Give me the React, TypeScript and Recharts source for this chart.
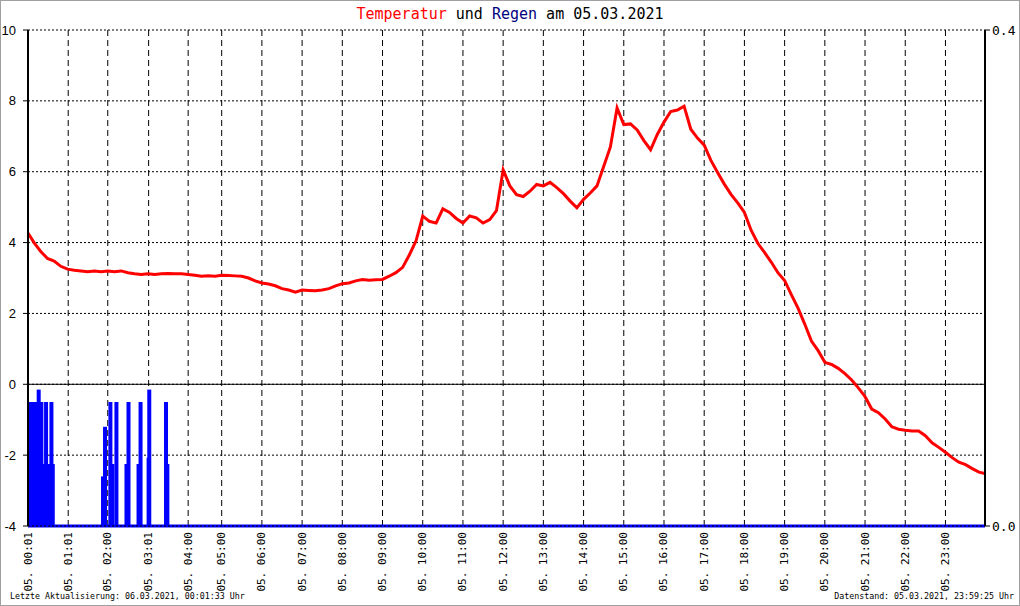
import React from 'react';
import { ComposedChart, Line, Bar, XAxis, YAxis, CartesianGrid, ReferenceLine } from 'recharts';

// sample times (every 10 min, record for 04:30 missing)
const tempTimes: string[] = (() => {
  const out: string[] = [];
  for (let h = 0; h < 24; h++) {
    for (let m = 0; m < 60; m += 10) {
      const s = `${String(h).padStart(2, '0')}:${String(m).padStart(2, '0')}`;
      if (s === '04:30') continue;
      out.push(s === '00:00' ? '00:01' : s);
    }
  }
  out.push('23:59');
  return out;
})();

const temps: number[] = [
  4.27, 4.0, 3.75, 3.55, 3.48, 3.33,
  3.25, 3.22, 3.2, 3.18, 3.2, 3.18,
  3.2, 3.18, 3.2, 3.15, 3.12, 3.1,
  3.12, 3.1, 3.12, 3.13, 3.12, 3.12,
  3.1, 3.08, 3.05, 3.06, 3.05,
  3.08, 3.07, 3.06, 3.05, 3.0, 2.92,
  2.86, 2.83, 2.78, 2.7, 2.66, 2.6,
  2.66, 2.65, 2.64, 2.66, 2.7, 2.78,
  2.84, 2.86, 2.92, 2.96, 2.94, 2.95,
  2.96, 3.05, 3.15, 3.3, 3.65, 4.05,
  4.75, 4.6, 4.55, 4.95, 4.85, 4.68,
  4.55, 4.75, 4.7, 4.55, 4.65, 4.9,
  6.05, 5.6, 5.35, 5.3, 5.45, 5.64,
  5.6, 5.7, 5.55, 5.38, 5.17, 4.98,
  5.22, 5.4, 5.6, 6.15, 6.7, 7.8,
  7.33, 7.35, 7.18, 6.88, 6.62, 7.05,
  7.4, 7.7, 7.74, 7.85, 7.2, 6.95,
  6.75, 6.32, 5.98, 5.65, 5.36, 5.12,
  4.85, 4.35, 3.98, 3.72, 3.45, 3.15,
  2.93, 2.53, 2.15, 1.7, 1.22, 0.95,
  0.62, 0.56, 0.45, 0.3, 0.12, -0.1,
  -0.35, -0.7, -0.8, -0.98, -1.2, -1.27,
  -1.3, -1.32, -1.32, -1.45, -1.65, -1.78,
  -1.92, -2.07, -2.2, -2.27, -2.38, -2.48,
  -2.52,
];

const rainTimes: string[] = [
  '00:02', '00:04', '00:08', '00:12', '00:17', '00:21', '00:26', '00:28', '00:31', '00:36', '00:38',
  '01:53', '01:56', '02:04', '02:07', '02:13', '02:28', '02:31', '02:46', '02:49', '03:01', '03:02', '03:27', '03:29',
];
const rainValues: number[] = [
  0.05, 0.1, 0.1, 0.1, 0.11, 0.1, 0.05, 0.1, 0.05, 0.1, 0.05,
  0.04, 0.08, 0.1, 0.05, 0.1, 0.05, 0.1, 0.05, 0.1, 0.055, 0.11, 0.1, 0.05,
];

const tickTimes: string[] = [
  '00:01', '01:01', '02:00', '03:01', '04:00', '05:00', '06:00', '07:00', '08:00', '09:00', '10:00', '11:00',
  '12:00', '13:00', '14:00', '15:00', '16:00', '17:00', '18:00', '19:00', '20:00', '21:00', '22:00', '23:00',
];
const dayPrefix = '05.';
const tempTicks = [-4, -2, 0, 2, 4, 6, 8, 10];
const rainTicks = [0, 0.4];

// record position: 10-minute record slots; the 04:30 record is missing
const toX = (t: string): number => {
  const [h, m] = t.split(':').map(Number);
  const min = h * 60 + m;
  return (min > 270 ? min - 10 : min) / 10;
};

const rows: any[] = [
  ...tempTimes.map((t, i) => ({ x: toX(t), temp: temps[i] })),
  ...rainTimes.map((t, i) => ({ x: toX(t), rain: rainValues[i] })),
].sort((a, b) => a.x - b.x);

const xTicks = tickTimes.map(toX);
const mono = '"DejaVu Sans Mono", "Liberation Mono", monospace';

const XTick = (props: any) => {
  const { x, y, payload } = props;
  const idx = xTicks.findIndex((v) => Math.abs(v - payload.value) < 1e-6);
  const label = `${dayPrefix} ${idx >= 0 ? tickTimes[idx] : ''}`;
  return (
    <text
      x={x}
      y={y}
      transform={`rotate(-90 ${x} ${y})`}
      textAnchor="end"
      dominantBaseline="central"
      fontSize={11}
      fontFamily={mono}
      fill="#000"
    >
      {label}
    </text>
  );
};

const RainBar = (props: any) => {
  const { x, y, width, height } = props;
  if (!height || height <= 0) return null;
  const cx = x + width / 2;
  return <rect x={cx - 2} y={y} width={4} height={height} fill="#0000ff" />;
};

export default function App() {
  return (
    <div
      style={{
        position: 'absolute',
        left: 0,
        top: 0,
        width: 1020,
        height: 606,
        boxSizing: 'border-box',
        border: '1px solid #a0a0a0',
        background: '#fff',
        overflow: 'hidden',
      }}
    >
      <div
        style={{
          position: 'absolute',
          left: -1,
          top: 4,
          width: 1020,
          textAlign: 'center',
          fontFamily: mono,
          fontSize: 15,
          lineHeight: '18px',
          color: '#000',
        }}
      >
        <span style={{ color: '#ff0000' }}>Temperatur</span> und <span style={{ color: '#000080' }}>Regen</span> am 05.03.2021
      </div>
      <div style={{ position: 'absolute', left: -1, top: -1 }}>
        <ComposedChart
          width={1020}
          height={606}
          data={rows}
          margin={{ top: 30, right: 0, bottom: 0, left: 0 }}
        >
          <CartesianGrid yAxisId="t" xAxisId="x" vertical={false} stroke="#000" strokeDasharray="2 2" />
          <CartesianGrid yAxisId="t" xAxisId="x" horizontal={false} stroke="#000" strokeDasharray="6 4" />
          <XAxis
            xAxisId="x"
            dataKey="x"
            type="number"
            domain={[toX('00:01'), toX('23:59')]}
            ticks={xTicks}
            interval={0}
            allowDataOverflow
            height={80}
            axisLine={false}
            tickLine={false}
            tickSize={4}
            tickMargin={2}
            tick={<XTick />}
          />
          <YAxis
            yAxisId="t"
            domain={[-4, 10]}
            ticks={tempTicks}
            interval={0}
            width={28}
            axisLine={{ stroke: '#000', strokeWidth: 2 }}
            tickLine={{ stroke: '#000' }}
            tickSize={5}
            tickMargin={7}
            tick={{ fill: '#000', fontSize: 13, fontFamily: '"Liberation Sans", Arial, sans-serif' }}
          />
          <YAxis
            yAxisId="r"
            orientation="right"
            domain={[0, 0.4]}
            ticks={rainTicks}
            interval={0}
            width={35}
            axisLine={{ stroke: '#000', strokeWidth: 2 }}
            tickLine={{ stroke: '#000' }}
            tickSize={5}
            tickMargin={2}
            tickFormatter={(v: number) => v.toFixed(1)}
            tick={{ fill: '#000', fontSize: 13, fontFamily: mono }}
          />
          <ReferenceLine yAxisId="r" xAxisId="x" y={0} stroke="#0000ff" strokeWidth={3} />
          <ReferenceLine yAxisId="t" xAxisId="x" y={-4} stroke="#000" strokeDasharray="2 2" />
          <ReferenceLine yAxisId="t" xAxisId="x" y={0} stroke="#000" strokeWidth={1} />
          <Bar
            xAxisId="x"
            yAxisId="r"
            dataKey="rain"
            fill="#0000ff"
            barSize={3}
            shape={<RainBar />}
            isAnimationActive={false}
          />
          <Line
            xAxisId="x"
            yAxisId="t"
            dataKey="temp"
            type="linear"
            stroke="#ff0000"
            strokeWidth={3}
            dot={false}
            connectNulls
            isAnimationActive={false}
          />
        </ComposedChart>
      </div>
      <div
        style={{
          position: 'absolute',
          left: 9,
          top: 590,
          fontFamily: mono,
          fontSize: 8.3,
          lineHeight: '10px',
          color: '#000',
          whiteSpace: 'pre',
        }}
      >
        Letzte Aktualisierung: 06.03.2021, 00:01:33 Uhr
      </div>
      <div
        style={{
          position: 'absolute',
          right: 5,
          top: 590,
          fontFamily: mono,
          fontSize: 8.3,
          lineHeight: '10px',
          color: '#000',
          whiteSpace: 'pre',
        }}
      >
        Datenstand: 05.03.2021, 23:59:25 Uhr
      </div>
    </div>
  );
}
